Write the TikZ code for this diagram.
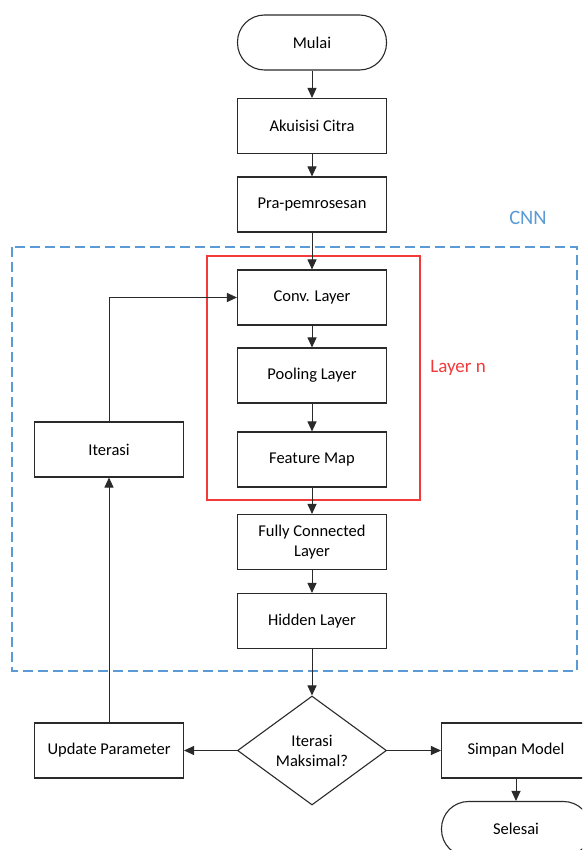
\documentclass[tikz,border=0pt]{standalone}
\usepackage{fontspec}
\setmainfont{Carlito}
\usetikzlibrary{shapes.geometric,arrows.meta}
\definecolor{linegray}{HTML}{2A2A2A}
\definecolor{cnnblue}{HTML}{5B9BD5}
\definecolor{layerred}{HTML}{F23A3A}
\begin{document}
\begin{tikzpicture}[x=1pt,y=-1pt,
  font=\fontsize{16.5}{20}\selectfont,
  box/.style={draw=linegray,line width=1.1pt,fill=white,minimum width=149pt,minimum height=55pt,inner sep=2pt,align=center,text=black},
  term/.style={box,rounded corners=27pt},
  decision/.style={draw=linegray,line width=1.1pt,fill=white,diamond,aspect=1.37,minimum width=149pt,minimum height=109pt,inner sep=0pt,align=center,text=black},
  flow/.style={draw=linegray,line width=1pt,-{Triangle[length=10pt,width=9pt]}}]
\useasboundingbox (0,0) rectangle (582,850);
\clip (0,0) rectangle (582,850);
\fill[white] (0,0) rectangle (582,850);

% CNN region and the repeated layer block
\draw[cnnblue,line width=1.3pt,dash pattern=on 10pt off 5pt] (12,247) rectangle (577,671);
\node[text=cnnblue,font=\fontsize{20.5}{22}\selectfont] (cnnlabel) at (528,218) {CNN};
\draw[layerred,line width=1.2pt] (207,256) rectangle (420,500);
\node[text=layerred,font=\fontsize{19}{22}\selectfont] (layerlabel) at (458,368) {Layer n};

% main column
\node[term] (mulai) at (312,42.5) {Mulai};
\node[box] (akuisisi) at (312,126) {Akuisisi Citra};
\node[box] (pra) at (312,204.5) {Pra-pemrosesan};
\node[box] (conv) at (312,297.5) {Conv. Layer};
\node[box] (pool) at (312,375.5) {Pooling Layer};
\node[box] (feat) at (312,459.5) {Feature Map};
\node[box] (fc) at (312,542) {Fully Connected\\Layer};
\node[box] (hidden) at (312,621) {Hidden Layer};
\node[decision] (iter?) at (312,750.5) {Iterasi\\Maksimal?};

% side boxes
\node[box] (update) at (109,750.5) {Update Parameter};
\node[box] (iterasi) at (109,449.5) {Iterasi};
\node[box] (simpan) at (516,750.5) {Simpan Model};
\node[term] (selesai) at (516,829) {Selesai};

% connectors
\draw[flow] (mulai) -- (akuisisi);
\draw[flow] (akuisisi) -- (pra);
\draw[flow] (pra) -- (conv);
\draw[flow] (conv) -- (pool);
\draw[flow] (pool) -- (feat);
\draw[flow] (feat) -- (fc);
\draw[flow] (fc) -- (hidden);
\draw[flow] (hidden) -- (iter?);
\draw[flow] (iter?.west) -- (update);
\draw[flow] (iter?.east) -- (simpan);
\draw[flow] (simpan) -- (selesai);
\draw[flow] (update) -- (iterasi);
\draw[flow] (iterasi.north) |- (conv.west);
\end{tikzpicture}
\end{document}
